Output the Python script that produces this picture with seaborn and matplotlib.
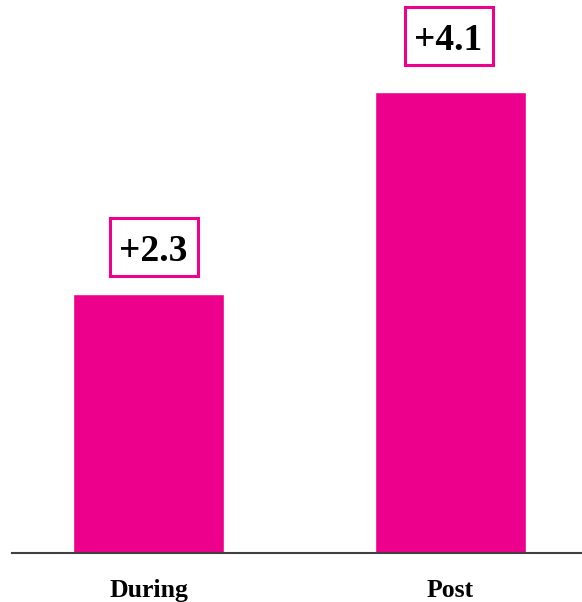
import matplotlib
matplotlib.use("Agg")
import matplotlib.pyplot as plt
from matplotlib.offsetbox import AnnotationBbox, DrawingArea
from matplotlib.patches import Rectangle
import seaborn as sns
import pandas as pd

categories = ["During", "Post"]
values = [2.3, 4.1]
labels = ["+2.3", "+4.1"]

sns.set_theme(style="white")
plt.rcParams['font.family'] = ['Liberation Serif', 'DejaVu Serif']

MAGENTA = "#EC008C"
PX = 72 / 100  # points per pixel at dpi 100

fig = plt.figure(figsize=(5.82, 6.02), dpi=100)
ax = fig.add_axes([12/582, (602-553)/602, 570/582, 553/602])

df = pd.DataFrame({"cat": categories, "val": values})
sns.barplot(data=df, x="cat", y="val", color=MAGENTA, saturation=1, width=0.5, ax=ax)

ax.set_xlim(-0.452, 1.435)
ax.set_ylim(0, 4.92)
for s in ["top", "right", "left"]:
    ax.spines[s].set_visible(False)
ax.spines["bottom"].set_color("#404040")
ax.spines["bottom"].set_linewidth(1.5)
ax.set_yticks([])
ax.set_xlabel("")
ax.set_ylabel("")
ax.tick_params(axis="x", length=0, pad=19)
for t in ax.get_xticklabels():
    t.set_fontsize(18.5)
    t.set_fontweight("bold")
    t.set_color("black")

box_offsets = [47, 56]   # px from bar top to box centre
box_dx = [5, -2]         # px horizontal shift of the label boxes
w, h = 88 * PX, 58 * PX
for i, (v, lab) in enumerate(zip(values, labels)):
    da = DrawingArea(w, h, 0, 0)
    da.add_artist(Rectangle((0, 0), w, h, fc="white", ec=MAGENTA, lw=2.2))
    ab = AnnotationBbox(da, (i, v), xybox=(box_dx[i] * PX, box_offsets[i] * PX),
                        boxcoords="offset points", frameon=False, pad=0,
                        box_alignment=(0.5, 0.5))
    ax.add_artist(ab)
    ax.annotate(lab, xy=(i, v), xytext=(box_dx[i] * PX, (box_offsets[i] - 14) * PX),
                textcoords="offset points", ha="center", va="baseline",
                fontsize=27, fontweight="bold", color="black")

fig.savefig("out.png", dpi=100)
